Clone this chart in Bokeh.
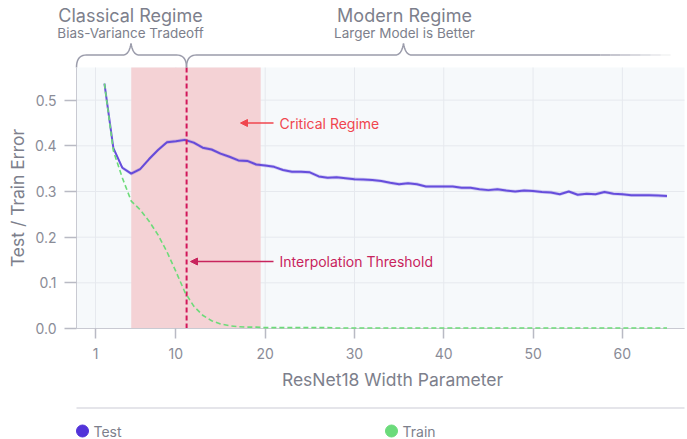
import math
from bokeh.plotting import figure
from bokeh.models import (Range1d, FixedTicker, Arrow, NormalHead, ColumnDataSource,
                          CustomJSTickFormatter)
from bokeh.core.properties import value
from bokeh.embed import file_html
from bokeh.resources import INLINE

# ---------------- data ----------------
width_param = [2, 3, 4, 5, 6, 7, 8, 9, 10, 11, 12, 13, 14, 15, 16, 17, 18, 19, 20, 21,
               22, 23, 24, 25, 26, 27, 28, 29, 30, 31, 32, 33, 34, 35, 36, 37, 38, 39, 40, 41,
               42, 43, 44, 45, 46, 47, 48, 49, 50, 51, 52, 53, 54, 55, 56, 57, 58, 59, 60, 61,
               62, 63, 64, 65]
test_error = [0.536, 0.395, 0.352, 0.339, 0.349, 0.371, 0.391, 0.408, 0.410, 0.413,
              0.407, 0.396, 0.392, 0.383, 0.376, 0.368, 0.367, 0.359, 0.357, 0.354,
              0.347, 0.343, 0.343, 0.342, 0.333, 0.330, 0.331, 0.329, 0.327, 0.326,
              0.325, 0.323, 0.319, 0.316, 0.318, 0.316, 0.311, 0.311, 0.311, 0.311,
              0.308, 0.308, 0.305, 0.303, 0.305, 0.302, 0.300, 0.302, 0.301, 0.299,
              0.298, 0.294, 0.300, 0.293, 0.295, 0.294, 0.299, 0.295, 0.294, 0.292,
              0.292, 0.292, 0.291, 0.290]
train_error = [0.536, 0.389, 0.330, 0.279, 0.260, 0.235, 0.205, 0.168, 0.125, 0.080,
               0.049, 0.029, 0.017, 0.010, 0.006, 0.004, 0.003, 0.003, 0.002, 0.002,
               0.002, 0.002, 0.002, 0.002, 0.002, 0.002, 0.001, 0.001, 0.001, 0.001,
               0.001, 0.001, 0.001, 0.001, 0.001, 0.001, 0.001, 0.001, 0.001, 0.001,
               0.001, 0.001, 0.001, 0.001, 0.001, 0.001, 0.001, 0.001, 0.001, 0.001,
               0.001, 0.001, 0.001, 0.001, 0.001, 0.001, 0.001, 0.001, 0.001, 0.001,
               0.001, 0.001, 0.001, 0.001]
test_band = 0.004
x_ticks = [1, 10, 20, 30, 40, 50, 60]
y_ticks = [0.0, 0.1, 0.2, 0.3, 0.4, 0.5]
critical_start, critical_end = 5.0, 19.5
interpolation_threshold = 11.2
series_names = ["Test", "Train"]
regime_titles = ["Classical Regime", "Modern Regime"]
regime_subtitles = ["Bias-Variance Tradeoff", "Larger Model is Better"]
x_title = "ResNet18 Width Parameter"
y_title = "Test / Train Error"

# ---------------- layout constants (page pixels) ----------------
W, H = 687, 439
FL, FR, FT, FB = 76, 684, 67, 328   # plot area edges
X0, X1 = -1.13, 66.96               # data range of the plot area
Y0, Y1 = 0.0, 0.5715

FONT = "Inter"
GRAY = "#7d7f8c"
TEST_C = "#5a3fd9"
TRAIN_C = "#6ddb79"
BR = "#9b9cab"
RED = "#f0464e"
CRIM = "#c8245d"


def dx(px):
    return X0 + (px - FL) / (FR - FL) * (X1 - X0)


def dy(py):
    return Y0 + (FB - py) / (FB - FT) * (Y1 - Y0)


p = figure(width=W, height=H, output_backend="svg", toolbar_location=None,
           x_range=Range1d(dx(0), dx(W)), y_range=Range1d(dy(H), dy(0)),
           min_border=0, min_border_left=0, min_border_right=0,
           min_border_top=0, min_border_bottom=0)
p.background_fill_color = "white"
p.border_fill_color = "white"
p.outline_line_color = None
p.grid.visible = False

# plot-area background, grid and critical regime
p.quad(left=[X0], right=[X1], bottom=[Y0], top=[Y1], fill_color="#f6f9fb", line_color=None)
p.segment(x0=x_ticks, x1=x_ticks, y0=[Y0] * len(x_ticks), y1=[Y1] * len(x_ticks),
          line_color="#e6e9ee", line_width=1)
p.segment(x0=[X0] * len(y_ticks), x1=[X1] * len(y_ticks), y0=y_ticks, y1=y_ticks,
          line_color="#e6e9ee", line_width=1)
p.quad(left=[critical_start], right=[critical_end], bottom=[Y0], top=[Y1],
       fill_color="#f4d2d5", line_color=None)

# axes
p.xaxis.fixed_location = 0.0
p.xaxis.bounds = (X0, X1)
p.yaxis.fixed_location = X0
p.yaxis.bounds = (Y0, Y1)
p.xaxis.ticker = FixedTicker(ticks=x_ticks)
p.yaxis.ticker = FixedTicker(ticks=y_ticks)
p.yaxis.formatter = CustomJSTickFormatter(code="return tick.toFixed(1)")
for ax in (p.xaxis[0], p.yaxis[0]):
    ax.axis_line_color = "#c9cad2"
    ax.major_tick_line_color = "#b9bac4"
    ax.major_tick_line_width = 1.5
    ax.minor_tick_line_color = None
    ax.major_tick_in = 0
    ax.major_label_text_font = FONT
    ax.major_label_text_color = "#8a8c97"
    ax.major_label_text_font_size = "14px"
p.xaxis.major_tick_out = 10
p.xaxis.major_label_standoff = 9
p.yaxis.major_tick_out = 12
p.yaxis.major_label_standoff = 8

p.text(x=[dx(392)], y=[dy(379)], text=[x_title], text_font=value(FONT),
       text_font_size="17.5px", text_color=GRAY, text_align="center", text_baseline="middle")
p.text(x=[dx(17)], y=[dy(197.5)], text=[y_title], text_font=value(FONT), angle=math.pi / 2,
       text_font_size="17.5px", text_color=GRAY, text_align="center", text_baseline="middle")

# data
src = ColumnDataSource(dict(x=width_param, test=test_error, train=train_error,
                            lo=[v - test_band for v in test_error],
                            hi=[v + test_band for v in test_error]))
p.varea(x="x", y1="lo", y2="hi", source=src, fill_color=TEST_C, fill_alpha=0.22)
r_train = p.line(x="x", y="train", source=src, line_color=TRAIN_C, line_width=1.6,
                 line_dash="5 3")
r_train.level = "annotation"
p.line(x="x", y="test", source=src, line_color=TEST_C, line_width=2.0, line_alpha=0.9)

# interpolation threshold
p.line(x=[interpolation_threshold, interpolation_threshold], y=[Y0, Y1], line_color="#d2175a",
       line_width=2, line_dash="5 3")

# annotations
p.add_layout(Arrow(end=NormalHead(size=7, fill_color=RED, line_color=RED),
                   x_start=dx(273), y_start=dy(122.5), x_end=dx(240), y_end=dy(122.5),
                   line_color=RED, line_width=1.5))
p.add_layout(Arrow(end=NormalHead(size=7, fill_color=CRIM, line_color=CRIM),
                   x_start=dx(273), y_start=dy(261), x_end=dx(190), y_end=dy(261),
                   line_color=CRIM, line_width=1.5))
p.text(x=[dx(279), dx(279)], y=[dy(122.5), dy(261)],
       text=["Critical Regime", "Interpolation Threshold"], text_font=value(FONT),
       text_font_size="14px", text_color=[RED, CRIM], text_baseline="middle")


# braces above the plot
def qbez(p0, p1, p2, n=10):
    pts = []
    for i in range(n + 1):
        t = i / n
        pts.append(((1 - t) ** 2 * p0[0] + 2 * (1 - t) * t * p1[0] + t ** 2 * p2[0],
                    (1 - t) ** 2 * p0[1] + 2 * (1 - t) * t * p1[1] + t ** 2 * p2[1]))
    return pts


def brace(x_left, x_right, tip, yl=54.5, yend=67, ytip=43):
    pts = []
    pts += qbez((x_left, yend), (x_left, yl), (x_left + 10, yl))
    pts += qbez((tip - 8, yl), (tip - 2, yl), (tip, ytip))
    pts += qbez((tip, ytip), (tip + 2, yl), (tip + 8, yl))
    if x_right is not None:
        pts += qbez((x_right - 10, yl), (x_right, yl), (x_right, yend))
    return pts


def draw_path(pts, **kw):
    p.line([dx(a) for a, b in pts], [dy(b) for a, b in pts], **kw)


draw_path(brace(FL, 186, 130.5), line_color=BR, line_width=1.5)
draw_path(brace(186, None, 403) + [(600, 54.5)], line_color=BR, line_width=1.5)
seg_x = [600, 610, 620, 630, 640, 650, 660, 670]
for i in range(len(seg_x) - 1):
    draw_path([(seg_x[i], 54.5), (seg_x[i + 1], 54.5)], line_color=BR, line_width=1.5,
              line_alpha=1 - (i + 1) / len(seg_x))

p.text(x=[dx(130), dx(404)], y=[dy(15), dy(15)], text=regime_titles, text_font=value(FONT),
       text_font_size="18px", text_color=GRAY, text_align="center", text_baseline="middle")
p.text(x=[dx(130), dx(404)], y=[dy(32), dy(32)], text=regime_subtitles, text_font=value(FONT),
       text_font_size="13.5px", text_color=GRAY, text_align="center", text_baseline="middle")

# separator and legend
draw_path([(FL, 407.5), (684, 407.5)], line_color="#dcdde3", line_width=1.5)
p.scatter(x=[dx(82), dx(391)], y=[dy(430.5), dy(430.5)], size=12,
          color=["#5233d9", "#6bdb7b"])
p.text(x=[dx(93), dx(402)], y=[dy(430.5), dy(430.5)], text=series_names,
       text_font=value(FONT), text_font_size="14px", text_color=GRAY, text_align="left",
       text_baseline="middle")

open("out.html", "w").write(file_html(p, INLINE))
